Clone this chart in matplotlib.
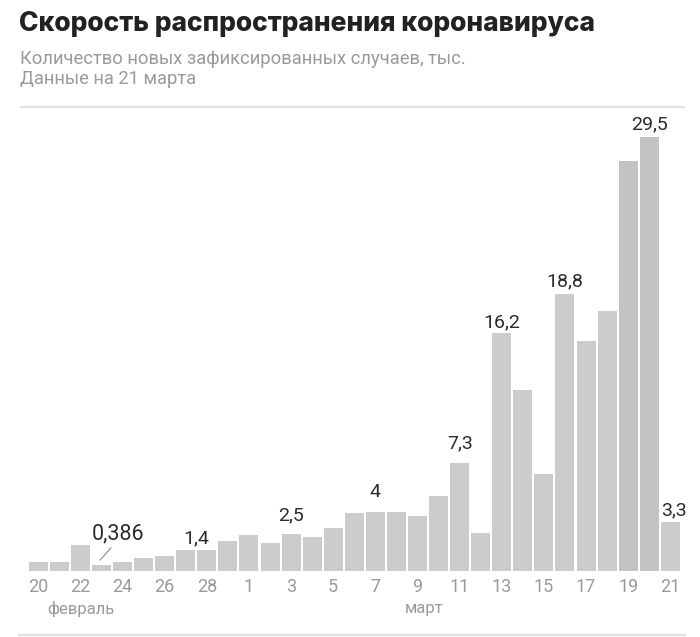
import matplotlib.pyplot as plt
from matplotlib.lines import Line2D

# daily new cases, thousands (Feb 20 .. Mar 21, 2020)
days = [20, 21, 22, 23, 24, 25, 26, 27, 28, 29,
        1, 2, 3, 4, 5, 6, 7, 8, 9, 10,
        11, 12, 13, 14, 15, 16, 17, 18, 19, 20, 21]
cases = [0.59, 0.59, 1.75, 0.386, 0.59, 0.84, 0.98, 1.4, 1.4, 2.0,
         2.43, 1.9, 2.5, 2.29, 2.9, 3.9, 4.0, 4.0, 3.7, 5.1,
         7.3, 2.55, 16.2, 12.3, 6.6, 18.8, 15.6, 17.7, 27.9, 29.5, 3.3]
# labelled bars: index -> text
value_labels = {3: "0,386", 7: "1,4", 12: "2,5", 16: "4", 20: "7,3",
                22: "16,2", 25: "18,8", 29: "29,5", 30: "3,3"}
tick_idx = list(range(0, 31, 2))
month_labels = ["февраль", "март"]

BAR = "#cccccc"
BAR_DARK = "#c3c3c3"
GREY = "#9a9a9a"
DARK = "#2b2b2b"
RULE = "#e2e2e2"

plt.rcParams["font.family"] = ["Roboto", "DejaVu Sans"]

fig = plt.figure(figsize=(7, 6.37), dpi=100)
W, H = 700, 637


def fx(px):
    return px / W


def fy(py):
    return 1 - py / H


# header
fig.text(fx(19), fy(31), "Скорость распространения коронавируса",
         fontsize=19, fontweight="heavy", family=["Inter", "DejaVu Sans"],
         color="#222222", va="baseline")
fig.text(fx(20), fy(63.5), "Количество новых зафиксированных случаев, тыс.",
         fontsize=13.2, color=GREY, va="baseline")
fig.text(fx(20), fy(84), "Данные на 21 марта",
         fontsize=13.2, color=GREY, va="baseline")
fig.add_artist(Line2D([fx(21), fx(684)], [fy(106.5), fy(106.5)],
                      color=RULE, lw=1.6))
fig.add_artist(Line2D([fx(19), fx(685)], [fy(635), fy(635)],
                      color=RULE, lw=1.6))

# axes: bar centres 38.3 .. 670.3 px, baseline at 570.7 px
step = (670.3 - 38.3) / 30
left = 38.3 - step / 2
base = 570.7
ppu = 14.7
ymax = 30
ax = fig.add_axes([fx(left), 1 - base / H, (31 * step) / W, ymax * ppu / H])

x = list(range(len(cases)))
colors = [BAR_DARK if i in (28, 29) else BAR for i in x]
ax.bar(x, cases, width=0.9, color=colors, linewidth=0)
ax.set_xlim(-0.5, 30.5)
ax.set_ylim(0, ymax)

for s in ax.spines.values():
    s.set_visible(False)
ax.set_yticks([])
ax.set_xticks(tick_idx)
ax.set_xticklabels([str(days[i]) for i in tick_idx], color=GREY, fontsize=13)
ax.tick_params(axis="x", length=0, pad=5)

# value labels (offsets in points above bar top)
offsets = {3: 15, 7: 2, 12: 7, 16: 8, 20: 8, 22: 1, 25: 3, 29: 3, 30: 2}
for i, txt in value_labels.items():
    xpos = i
    size = 14
    if i == 7:
        xpos = 7.5
    if i == 3:
        xpos = 3.8
        size = 15.5
    if i == 30:
        xpos = 30.15
    ax.annotate(txt, (xpos, cases[i]), xytext=(0, offsets[i]),
                textcoords="offset points", ha="center", va="bottom",
                fontsize=size, color=DARK, annotation_clip=False)
# leader line for the small value
ax.plot([2.93, 3.45], [0.72, 1.55], color="#888888", lw=0.8, clip_on=False)

fig.text(fx(81), fy(609), month_labels[0], fontsize=12,
         color=GREY, ha="center", va="center")
fig.text(fx(424), fy(609), month_labels[1], fontsize=12,
         color=GREY, ha="center", va="center")

fig.savefig("out.png", dpi=100, facecolor="white")
